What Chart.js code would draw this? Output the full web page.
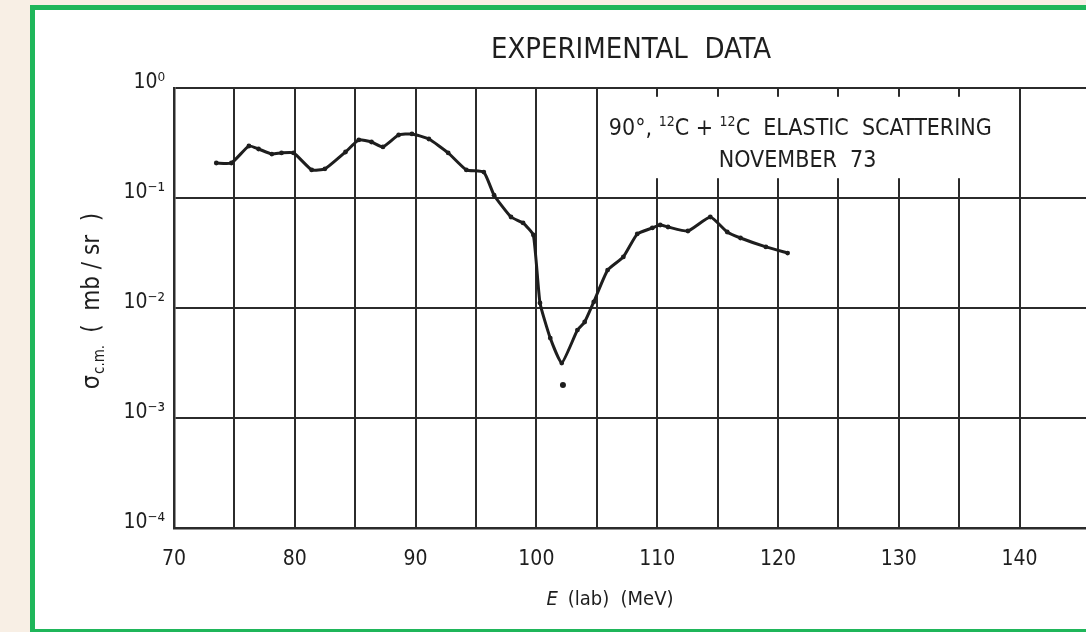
<!DOCTYPE html>
<html><head><meta charset="utf-8">
<script src="https://cdn.jsdelivr.net/npm/chart.js@4.4.0/dist/chart.umd.min.js"></script>
<style>
html,body{margin:0;padding:0;width:1086px;height:632px;overflow:hidden;background:#f8efe5;}
#panel{position:absolute;left:30px;top:5px;width:1120px;height:629px;border:5px solid #1fb65a;background:#fff;box-sizing:border-box;}
#c{position:absolute;left:35px;top:10px;}
</style></head><body>
<div id="panel"></div>
<canvas id="c" width="1080" height="617"></canvas>
<script>
// ---- data ----
const energies = [73.5, 74.75, 76.2, 77.0, 78.1, 78.9, 79.9, 81.4, 82.5, 84.2,
  85.3, 86.35, 87.3, 88.6, 89.7, 91.1, 92.7, 94.2, 95.65, 96.5,
  97.9, 98.9, 99.75, 100.3, 101.15, 102.1, 103.4, 104.0, 104.75, 105.9,
  107.2, 108.35, 109.6, 110.25, 110.9, 112.55, 114.4, 115.8, 116.9, 119.0,
  120.8];
const crossSections = [0.208, 0.208, 0.297, 0.279, 0.251, 0.257, 0.257, 0.180, 0.184, 0.262,
  0.337, 0.323, 0.291, 0.374, 0.382, 0.344, 0.257, 0.180, 0.172, 0.106,
  0.0672, 0.0593, 0.0461, 0.0111, 0.00533, 0.00316, 0.0063, 0.00746, 0.01135, 0.0221,
  0.0291, 0.0471, 0.0534, 0.0568, 0.0545, 0.0501, 0.0672, 0.0491, 0.0433, 0.0359,
  0.0316];
const isolatedEnergy = [102.2];
const isolatedSigma = [0.0020];
const yTickValues = [1e-4, 1e-3, 1e-2, 1e-1, 1];
const yTickLabels = ['10\u207B\u2074', '10\u207B\u00B3', '10\u207B\u00B2', '10\u207B\u00B9', '10\u2070'];
const xTickLabelValues = [70, 80, 90, 100, 110, 120, 130, 140];

// ---- layout / style ----
const FONT = '"Liberation Sans Narrow", "DejaVu Sans Condensed", "Liberation Sans", sans-serif';
const INK = '#1e1e1e';
const GRID = '#2b2b2b';
const annotBox = {x0: 105.25, x1: 137.6, y0: Math.pow(10, -0.08), y1: Math.pow(10, -0.82)};
const annotAnchor = {x: 106.0, y: Math.pow(10, -0.43)};
const annotLine2 = {x: 115.1, y: Math.pow(10, -0.72)};

Chart.defaults.font.family = FONT;
Chart.defaults.color = INK;

function drawRuns(ctx, runs, x, y) {
  let cx = x;
  for (const r of runs) {
    ctx.font = r.font;
    ctx.fillText(r.t, cx, y + (r.dy || 0));
    cx += ctx.measureText(r.t).width + (r.gap || 0);
  }
  return cx - x;
}
function runsWidth(ctx, runs) {
  let w = 0;
  for (const r of runs) { ctx.font = r.font; w += ctx.measureText(r.t).width + (r.gap || 0); }
  return w;
}

const deco = {
  id: 'deco',
  beforeDatasetsDraw(chart) {
    const {ctx, scales: {x, y}} = chart;
    const l = x.getPixelForValue(annotBox.x0), r = x.getPixelForValue(annotBox.x1);
    const t = y.getPixelForValue(annotBox.y0), b = y.getPixelForValue(annotBox.y1);
    ctx.save();
    ctx.fillStyle = '#fff';
    ctx.fillRect(l, t, r - l, b - t);
    ctx.restore();
  },
  afterDraw(chart) {
    const {ctx, scales: {x, y}} = chart;
    ctx.save();
    ctx.fillStyle = INK;
    ctx.textBaseline = 'alphabetic';
    // title
    ctx.font = '29px ' + FONT;
    ctx.textAlign = 'center';
    ctx.fillText('EXPERIMENTAL  DATA', 596, 48);
    // annotation
    ctx.textAlign = 'left';
    const big = '23px ' + FONT, sup = '14px ' + FONT;
    const ax = x.getPixelForValue(annotAnchor.x), ay = y.getPixelForValue(annotAnchor.y);
    drawRuns(ctx, [
      {t: '90\u00B0, ', font: big},
      {t: '12', font: sup, dy: -9},
      {t: 'C + ', font: big},
      {t: '12', font: sup, dy: -9},
      {t: 'C  ELASTIC  SCATTERING', font: big}
    ], ax, ay);
    ctx.font = big;
    ctx.fillText('NOVEMBER  73', x.getPixelForValue(annotLine2.x), y.getPixelForValue(annotLine2.y));
    // x axis title
    const xr = [
      {t: 'E', font: 'italic 20px ' + FONT, gap: 4},
      {t: ' (lab)  (MeV)', font: '20px ' + FONT}
    ];
    const xw = runsWidth(ctx, xr);
    const xc = x.getPixelForValue(106.1);
    drawRuns(ctx, xr, xc - xw / 2, 595);
    // y axis title
    ctx.translate(64, (chart.chartArea.top + chart.chartArea.bottom) / 2 - 7);
    ctx.rotate(-Math.PI / 2);
    const yr = [
      {t: '\u03C3', font: '25px ' + FONT, gap: 1},
      {t: 'c.m.', font: '15px ' + FONT, dy: 5, gap: 12},
      {t: '(  mb / sr  )', font: '24px ' + FONT}
    ];
    const yw = runsWidth(ctx, yr);
    drawRuns(ctx, yr, -yw / 2, 0);
    ctx.restore();
  }
};

new Chart(document.getElementById('c'), {
  type: 'line',
  data: {
    datasets: [{
      data: energies.map((e, i) => ({x: e, y: crossSections[i]})),
      borderColor: INK,
      backgroundColor: INK,
      borderWidth: 3,
      pointRadius: 2.4,
      pointBackgroundColor: INK,
      pointBorderWidth: 0,
      tension: 0.15,
      fill: false
    }, {
      data: isolatedEnergy.map((e, i) => ({x: e, y: isolatedSigma[i]})),
      showLine: false,
      pointRadius: 3,
      pointBackgroundColor: INK,
      pointBorderWidth: 0
    }]
  },
  options: {
    responsive: false,
    animation: false,
    layout: {padding: {top: 78, right: 23, left: 0, bottom: 0}},
    plugins: {legend: {display: false}, tooltip: {enabled: false}, title: {display: false}},
    scales: {
      x: {
        type: 'linear', min: 70, max: 146,
        afterFit(s) { s.height = 99; },
        afterBuildTicks(s) { s.ticks = s.ticks.filter(t => Math.abs(t.value % 5) < 1e-6); },
        grid: {color: GRID, lineWidth: 2, drawTicks: false},
        border: {display: true, color: GRID, width: 2.5},
        ticks: {
          stepSize: 5, autoSkip: false, maxRotation: 0, padding: 19,
          font: {size: 21},
          callback: v => xTickLabelValues.includes(v) ? String(v) : ''
        }
      },
      y: {
        type: 'logarithmic', min: 1e-4, max: 1,
        afterFit(s) { s.width = 139; },
        afterBuildTicks(s) { s.ticks = yTickValues.map(v => ({value: v, major: true})); },
        grid: {color: GRID, lineWidth: 2, drawTicks: false},
        border: {display: true, color: GRID, width: 2.5},
        ticks: {
          autoSkip: false, padding: 9, labelOffset: -5,
          font: {size: 21},
          callback: v => { const i = yTickValues.findIndex(t => Math.abs(Math.log10(t) - Math.log10(v)) < 1e-6); return i >= 0 ? yTickLabels[i] : ''; }
        }
      }
    }
  },
  plugins: [deco]
});
</script>
</body></html>
